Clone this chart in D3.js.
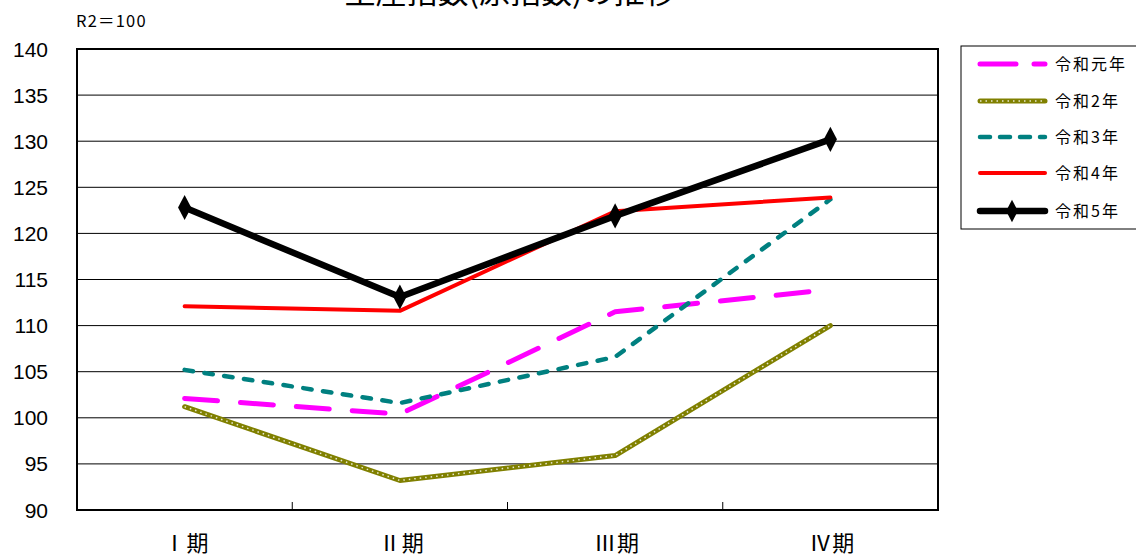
<!DOCTYPE html>
<html><head><meta charset="utf-8">
<script src="https://cdn.jsdelivr.net/npm/d3@7"></script>
<style>body{margin:0;background:#fff;}svg{display:block;}</style>
</head><body>
<svg id="c" width="1136" height="556"></svg>
<script>
const categories = ["Ⅰ期", "Ⅱ期", "Ⅲ期", "Ⅳ期"];
const seriesNames = ["令和元年", "令和2年", "令和3年", "令和4年", "令和5年"];
const r1 = [102.1, 100.4, 111.5, 113.9];
const r2 = [101.2, 93.2, 95.9, 110.0];
const r3 = [105.2, 101.6, 106.6, 123.7];
const r4 = [112.1, 111.6, 122.4, 123.9];
const r5 = [122.8, 113.1, 121.9, 130.2];
const yTicks = [90, 95, 100, 105, 110, 115, 120, 125, 130, 135, 140];
const title = "生産指数(原指数)の推移";
const baseNote = "R2＝100";

const svg = d3.select("#c");
const L = 77, R = 938, T = 49, B = 510;
const x = d3.scaleBand().domain(categories).range([L, R]);
const y = d3.scaleLinear().domain([90, 140]).range([B, T]);
const cx = c => x(c) + x.bandwidth() / 2;

// title (partly cut off at top, as in the reference)
svg.append("text").attr("x", 510).attr("y", 3).attr("text-anchor", "middle")
  .attr("font-family", "Noto Sans CJK JP").attr("font-size", 31).text(title);
svg.append("text").attr("x", 76).attr("y", 27).attr("letter-spacing", 1.2)
  .attr("font-family", "Noto Sans CJK JP").attr("font-size", 16.5).text(baseNote);

// gridlines
svg.append("g").selectAll("line").data(yTicks.filter(v => v > 90 && v < 140)).join("line")
  .attr("x1", L).attr("x2", R).attr("y1", d => y(d)).attr("y2", d => y(d))
  .attr("stroke", "#000").attr("stroke-width", 1);

// y labels
svg.append("g").selectAll("text").data(yTicks).join("text")
  .attr("x", 48).attr("y", d => y(d) + 7.5).attr("text-anchor", "end")
  .attr("font-family", "Liberation Sans, Arial").attr("font-size", 21).text(d => d);

// x ticks (inside)
svg.append("g").selectAll("line").data(categories.slice(1)).join("line")
  .attr("x1", d => x(d)).attr("x2", d => x(d)).attr("y1", B).attr("y2", B - 8)
  .attr("stroke", "#000").attr("stroke-width", 1);

// x labels
svg.append("g").selectAll("text").data(categories).join("text")
  .attr("x", d => cx(d) + 2).attr("y", 551).attr("text-anchor", "middle")
  .attr("letter-spacing", 1)
  .attr("font-family", "Noto Sans CJK JP").attr("font-size", 22).text(d => d);

// plot border
svg.append("rect").attr("x", L).attr("y", T).attr("width", R - L).attr("height", B - T)
  .attr("fill", "none").attr("stroke", "#000").attr("stroke-width", 2);

const line = d3.line().x((d, i) => cx(categories[i])).y(d => y(d));

const styles = [
  {data: r1, color: "#ff00ff", w: 5, dash: "33,23", ldash: "36,18"},
  {data: r2, color: "#808000", w: 5, dash: null, ldash: null, dots: true},
  {data: r3, color: "#008080", w: 4.5, dash: "8.5,11.5", ldash: "10,10"},
  {data: r4, color: "#ff0000", w: 4, dash: null, ldash: null},
  {data: r5, color: "#000000", w: 6.5, dash: null, ldash: null, marker: true}
];

const plot = svg.append("g");
styles.forEach(s => {
  plot.append("path").datum(s.data).attr("d", line).attr("fill", "none")
    .attr("stroke", s.color).attr("stroke-width", s.w).attr("stroke-linecap", "round")
    .attr("stroke-linejoin", "round").attr("stroke-dasharray", s.dash);
  if (s.dots) {
    plot.append("path").datum(s.data).attr("d", line).attr("fill", "none")
      .attr("stroke", "#e8e8d0").attr("stroke-width", 1.5).attr("stroke-dasharray", "1.5,4");
  }
  if (s.marker) {
    plot.append("g").selectAll("path").data(s.data).join("path")
      .attr("d", d3.symbol(d3.symbolDiamond, 150)())
      .attr("transform", (d, i) => `translate(${cx(categories[i])},${y(d)}) scale(1,1.1)`)
      .attr("fill", "#000");
  }
});

// legend
const lg = svg.append("g");
lg.append("rect").attr("x", 961).attr("y", 46).attr("width", 180).attr("height", 183)
  .attr("fill", "#fff").attr("stroke", "#000").attr("stroke-width", 1);
const rowsY = [64, 101, 137, 173, 211];
styles.forEach((s, i) => {
  const yy = rowsY[i];
  lg.append("line").attr("x1", 980).attr("x2", 1045).attr("y1", yy).attr("y2", yy)
    .attr("stroke", s.color).attr("stroke-width", s.w).attr("stroke-linecap", "round")
    .attr("stroke-dasharray", s.ldash);
  if (s.dots) {
    lg.append("line").attr("x1", 980).attr("x2", 1045).attr("y1", yy).attr("y2", yy)
      .attr("stroke", "#e8e8d0").attr("stroke-width", 1.5).attr("stroke-dasharray", "1.5,4");
  }
  if (s.marker) {
    lg.append("path").attr("d", d3.symbol(d3.symbolDiamond, 120)())
      .attr("transform", `translate(1012,${yy}) scale(1,1.1)`).attr("fill", "#000");
  }
  lg.append("text").attr("x", 1055).attr("y", yy + 6).attr("letter-spacing", 2)
    .attr("font-family", "Noto Sans CJK JP").attr("font-size", 16).text(seriesNames[i]);
});
</script>
</body></html>
